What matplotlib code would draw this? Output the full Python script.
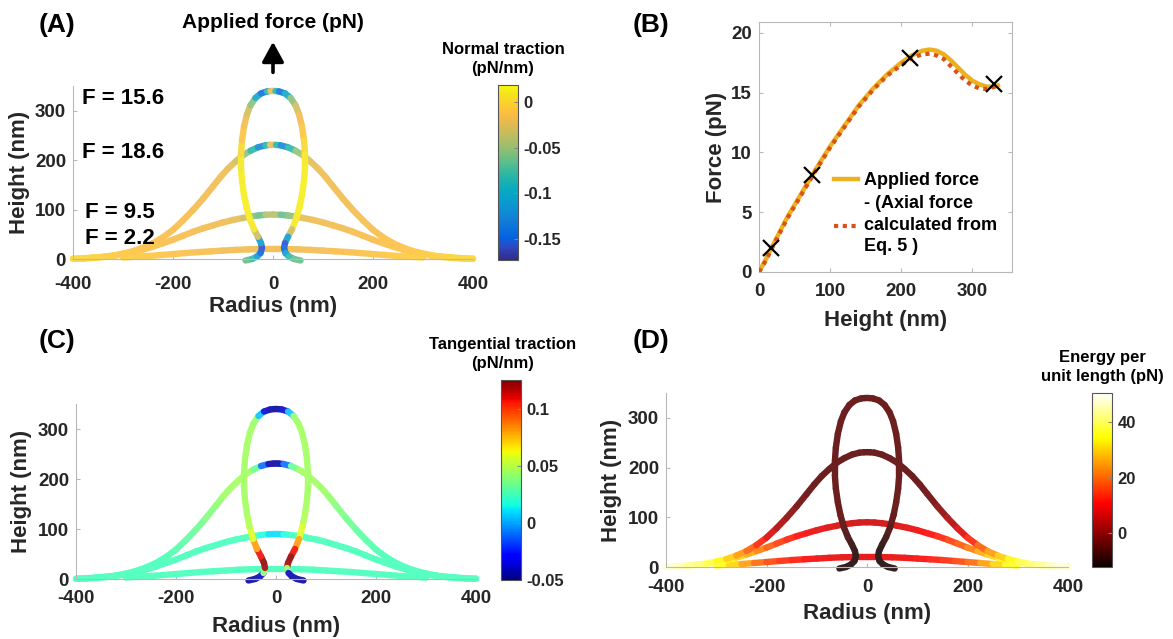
import matplotlib
matplotlib.use("Agg")
import matplotlib.pyplot as plt
import numpy as np
from matplotlib.collections import LineCollection
from matplotlib.colors import LinearSegmentedColormap, Normalize
from matplotlib.cm import ScalarMappable

plt.rcParams["font.family"] = ["Liberation Sans", "DejaVu Sans"]
plt.rcParams["font.weight"] = "bold"
plt.rcParams["axes.labelweight"] = "bold"
plt.rcParams["axes.unicode_minus"] = False

W, H = 1173, 639

# ---- membrane shapes (right half, r and z in nm), mirrored about r = 0 ----
r_22 = np.array([0, 25, 50, 75, 100, 125, 150, 175, 200, 225, 250, 275, 300])
z_22 = np.array([20, 20, 19.5, 18.5, 17, 15.5, 14, 12, 10, 8, 6, 4.5, 3])

r_95 = np.array([0, 15, 30, 45, 60, 80, 100, 120, 140, 160, 180, 200, 220, 240, 260, 280, 300, 320, 340, 360, 380, 400])
z_95 = np.array([90, 89.5, 88, 86, 83, 79, 74, 68, 62, 55, 47, 39, 32, 25, 19, 14, 9.5, 6, 4, 2, 1, 0.5])

r_186 = np.array([0, 6, 15, 30, 45, 60, 75, 90, 105, 120, 140, 160, 180, 200, 220, 240, 260, 280, 300, 320, 340,
                  360, 380, 400])
z_186 = np.array([231, 230.8, 230, 226, 219, 210, 197, 183, 166, 147, 122, 99, 78, 59, 44, 32, 23, 16, 11, 7, 4.5,
                  3, 1.5, 0.5])

r_156 = np.array([0, 5, 12, 24, 35, 45, 52, 58, 62, 64, 64, 62, 58, 53, 46, 38, 30, 24, 22, 25, 32, 42, 55])
z_156 = np.array([340, 339.8, 339, 335, 326, 311, 293, 268, 240, 212, 185, 158, 130, 105, 80, 60, 45, 32, 22, 12,
                  5, 0, -3])

# normal traction (pN/nm), panel A
nt_22 = np.array([-0.018, -0.018, -0.018, -0.018, -0.017, -0.016, -0.015, -0.013, -0.012, -0.01, -0.008,
                  -0.006, -0.004])
nt_95 = np.array([-0.02, -0.06, -0.07, -0.04, -0.025, -0.02, -0.018, -0.018, -0.018, -0.017, -0.016, -0.015,
                  -0.014, -0.013, -0.012, -0.01, -0.008, -0.006, -0.004, -0.002, 0.0, 0.0])
nt_186 = np.array([-0.02, -0.02, -0.15, -0.1, -0.065, -0.04, -0.025, -0.02, -0.018, -0.018, -0.018, -0.017,
                   -0.016, -0.015, -0.014, -0.013, -0.012, -0.01, -0.008, -0.006, -0.004, -0.002, 0.0, 0.0])
nt_156 = np.array([-0.02, -0.02, -0.15, -0.13, -0.07, -0.04, -0.02, -0.015, -0.005, 0.008, 0.012, 0.013, 0.013,
                   0.013, 0.012, 0.008, -0.07, -0.15, -0.165, -0.13, -0.09, -0.07, -0.06])

# tangential traction (pN/nm), panel C
tt_22 = np.full(13, 0.025)
tt_95 = np.array([0.008, 0.012, 0.022, 0.025, 0.025, 0.025, 0.025, 0.025, 0.025, 0.025, 0.025, 0.025, 0.025,
                  0.025, 0.025, 0.025, 0.025, 0.025, 0.025, 0.025, 0.025, 0.025])
tt_186 = np.array([-0.045, -0.045, -0.04, 0.02, 0.045, 0.045, 0.045, 0.045, 0.043, 0.04, 0.036, 0.032, 0.029,
                   0.027, 0.025, 0.025, 0.025, 0.025, 0.025, 0.025, 0.025, 0.025, 0.025, 0.025])
tt_156 = np.array([-0.045, -0.045, -0.045, -0.03, 0.04, 0.045, 0.045, 0.045, 0.045, 0.045, 0.045, 0.045, 0.046,
                   0.05, 0.065, 0.095, 0.12, 0.125, 0.115, -0.035, -0.045, -0.045, -0.045])

# energy per unit length (pN), panel D
en_22 = np.array([8, 8, 8.5, 9, 10, 11, 13, 15, 18, 22, 28, 33, 38])
en_95 = np.array([6, 6, 6, 6.5, 7, 8, 9, 10, 12, 14, 17, 20, 24, 28, 32, 36, 39, 42, 44, 46, 47, 48])
en_186 = np.array([-5, -5, -5, -5, -5, -5, -5, -5, -4.5, -4, -2, 1, 5, 10, 16, 22, 27, 32, 36, 40, 42, 45, 47, 48])
en_156 = np.array([-5, -5, -5, -5, -5, -5, -5, -5, -5, -5, -5, -5, -5, -5, -6, -8, -10, -11, -11, -11, -11, -11, -11])

# ---- force vs height, panel B ----
h_applied = np.array([0, 10, 20, 40, 60, 80, 100, 120, 140, 160, 180, 200, 215, 230, 240, 250, 260, 270,
                      280, 290, 300, 310, 320, 330, 336])
f_applied = np.array([0, 1.1, 2.3, 4.6, 6.6, 8.6, 10.5, 12.2, 13.9, 15.3, 16.5, 17.5, 18.1, 18.5, 18.6, 18.5,
                      18.2, 17.7, 17.1, 16.5, 16.0, 15.7, 15.5, 15.5, 15.6])
h_axial = np.array([0, 10, 20, 40, 60, 80, 100, 120, 140, 160, 180, 200, 215, 230, 240, 250, 260, 270,
                    280, 290, 300, 310, 320, 330, 336])
f_axial = np.array([0, 1.0, 2.2, 4.5, 6.5, 8.5, 10.4, 12.1, 13.8, 15.2, 16.4, 17.3, 17.9, 18.2, 18.25, 18.1,
                    17.8, 17.2, 16.6, 16.0, 15.6, 15.35, 15.3, 15.45, 15.6])
h_marks = np.array([17, 75, 212, 330])
f_marks = np.array([2.0, 8.1, 17.9, 15.7])

force_labels = ["F = 15.6", "F = 18.6", "F = 9.5", "F = 2.2"]

parula_pos = np.array([0, 5, 8, 15, 21, 26, 31, 36, 40, 45, 49, 52, 54, 57, 60, 63]) / 63
parula_rgb = [(0.2081, 0.1663, 0.5292), (0.1707, 0.2919, 0.7792), (0.0117, 0.3875, 0.8820),
              (0.0779, 0.5040, 0.8384), (0.0265, 0.6137, 0.8135), (0.0383, 0.6743, 0.7436),
              (0.1801, 0.7177, 0.6424), (0.3953, 0.7459, 0.5244), (0.5709, 0.7485, 0.4494),
              (0.7525, 0.7384, 0.3768), (0.8824, 0.7274, 0.3217), (0.9739, 0.7314, 0.2666),
              (0.9990, 0.7653, 0.2164), (0.9789, 0.8271, 0.1633), (0.9589, 0.8949, 0.1132),
              (0.9763, 0.9831, 0.0538)]
parula = LinearSegmentedColormap.from_list("parula", list(zip(parula_pos, parula_rgb)))

GRAY = "#262626"
SPINE = "#b8b8b8"


def rect(x0, y0, x1, y1):
    return [x0 / W, 1 - y1 / H, (x1 - x0) / W, (y1 - y0) / H]


def ftext(x, y, s, **kw):
    fig.text(x / W, 1 - y / H, s, **kw)


def draw_shape(ax, r, z, c, cmap, norm):
    rr = np.concatenate([-r[::-1], r[1:]])
    zz = np.concatenate([z[::-1], z[1:]])
    cc = np.concatenate([c[::-1], c[1:]])
    pts = np.column_stack([rr, zz]).reshape(-1, 1, 2)
    segs = np.concatenate([pts[:-1], pts[1:]], axis=1)
    cols = plt.get_cmap(cmap)(norm(0.5 * (cc[:-1] + cc[1:])))
    cols[:, :3] = cols[:, :3] * 0.88 + 0.12   # slightly washed, like the original's line shading
    lc = LineCollection(segs, colors=cols, linewidths=4.6, capstyle="round", clip_on=False)
    ax.add_collection(lc)


def shape_axes(rc, xpad, ylab_x, xlab_y):
    ax = fig.add_axes(rc)
    ax.set_xlim(-400, 400)
    ax.set_ylim(0, 350)
    ax.set_xticks([-400, -200, 0, 200, 400])
    ax.set_yticks([0, 100, 200, 300])
    for s in ["top", "right"]:
        ax.spines[s].set_visible(False)
    for s in ["left", "bottom"]:
        ax.spines[s].set_color(SPINE)
    ax.tick_params(direction="in", length=3, color=SPINE, labelsize=13.5, labelcolor=GRAY, pad=5)
    ax.tick_params(axis="x", pad=xpad)
    ax.set_xlabel("Radius (nm)", fontsize=16, color=GRAY)
    ax.set_ylabel("Height (nm)", fontsize=16, color=GRAY)
    ax.yaxis.set_label_coords(ylab_x, 0.5)
    ax.xaxis.set_label_coords(0.5, xlab_y)
    return ax


def colorbar(rc, cmap, norm, ticks, labels):
    cax = fig.add_axes(rc)
    cb = fig.colorbar(ScalarMappable(norm=norm, cmap=cmap), cax=cax)
    cb.set_ticks(ticks)
    cb.set_ticklabels(labels)
    cb.outline.set_edgecolor("#555555")
    cax.tick_params(direction="in", length=3, labelsize=12, labelcolor=GRAY, color="#888888", pad=4)


fig = plt.figure(figsize=(W / 100, H / 100), dpi=100)

shapes = [(r_22, z_22), (r_95, z_95), (r_186, z_186), (r_156, z_156)]

# ---------- (A) normal traction ----------
axA = shape_axes(rect(73, 86, 473, 259), 12, -0.1075, -0.212)
normA = Normalize(-0.173, 0.0186)
for (r, z), c in zip(shapes, [nt_22, nt_95, nt_186, nt_156]):
    draw_shape(axA, r, z, c, parula, normA)
colorbar(rect(498, 85, 518, 260), parula, normA, [-0.15, -0.1, -0.05, 0], ["-0.15", "-0.1", "-0.05", "0"])
ftext(503, 59, "Normal traction\n(pN/nm)", ha="center", va="center", fontsize=12, color="k", linespacing=1.3)
for s, (x, y) in zip(force_labels, [(82, 98), (82, 152), (85, 212), (85, 238)]):
    ftext(x, y, s, ha="left", va="center", fontsize=16, color="k")
axA.annotate("", xy=(0, 445), xytext=(0, 372), annotation_clip=False,
             arrowprops=dict(arrowstyle="-|>,head_length=0.55,head_width=0.3", lw=2.6, color="k",
                             mutation_scale=22))
ftext(273, 23, "Applied force (pN)", ha="center", va="center", fontsize=15, color="k")
ftext(57, 25, "(A)", ha="center", va="center", fontsize=19, color="k")

# ---------- (B) force vs height ----------
axB = fig.add_axes(rect(759, 22, 1012, 272))
axB.plot(h_applied, f_applied, color=(0.929, 0.694, 0.125), lw=3.2, label="Applied force", zorder=2)
axB.plot(h_axial, f_axial, color=(0.85, 0.325, 0.098), lw=3.0, ls=(0, (1, 1.1)),
         label="- (Axial force\ncalculated from\nEq. 5 )", zorder=3)
axB.plot(h_marks, f_marks, "x", color="k", ms=12, mew=1.6, zorder=4)
axB.set_xlim(0, 356)
axB.set_ylim(0, 20.9)
axB.set_xticks([0, 100, 200, 300])
axB.set_yticks([0, 5, 10, 15, 20])
for s in axB.spines.values():
    s.set_color(SPINE)
axB.tick_params(direction="in", length=3, color=SPINE, labelsize=13.5, labelcolor=GRAY, top=True, right=True,
                pad=5)
axB.tick_params(axis="x", pad=8)
axB.set_xlabel("Height (nm)", fontsize=16, color=GRAY)
axB.set_ylabel("Force (pN)", fontsize=16, color=GRAY)
axB.yaxis.set_label_coords(-0.126, 0.5)
axB.xaxis.set_label_coords(0.5, -0.152)
leg = axB.legend(loc="upper left", bbox_to_anchor=((834 - 759) / 253, (272 - 172) / 250), frameon=False,
                 fontsize=13, handlelength=1.35, handletextpad=0.3, labelspacing=0.35, borderpad=0, borderaxespad=0)
for t in leg.get_texts():
    t.set_color("k")
    t.set_linespacing(1.35)
ftext(651, 25, "(B)", ha="center", va="center", fontsize=19, color="k")

# ---------- (C) tangential traction ----------
axC = shape_axes(rect(76, 404, 476, 579), 8, -0.11, -0.211)
normC = Normalize(-0.05, 0.125)
for (r, z), c in zip(shapes, [tt_22, tt_95, tt_186, tt_156]):
    draw_shape(axC, r, z, c, "jet", normC)
colorbar(rect(501, 380, 521, 580), "jet", normC, [-0.05, 0, 0.05, 0.1], ["-0.05", "0", "0.05", "0.1"])
ftext(503, 354, "Tangential traction\n(pN/nm)", ha="center", va="center", fontsize=12, color="k", linespacing=1.3)
ftext(57, 341, "(C)", ha="center", va="center", fontsize=19, color="k")

# ---------- (D) energy per unit length ----------
axD = shape_axes(rect(666, 393, 1068, 567), 9, -0.11, -0.207)
normD = Normalize(-12.3, 50.5)
for (r, z), c in zip(shapes, [en_22, en_95, en_186, en_156]):
    draw_shape(axD, r, z, c, "hot", normD)
colorbar(rect(1092, 393, 1112, 567), "hot", normD, [0, 20, 40], ["0", "20", "40"])
ftext(1102, 367, "Energy per\nunit length (pN)", ha="center", va="center", fontsize=12, color="k", linespacing=1.3)
ftext(651, 341, "(D)", ha="center", va="center", fontsize=19, color="k")

fig.savefig("out.png", dpi=100)
